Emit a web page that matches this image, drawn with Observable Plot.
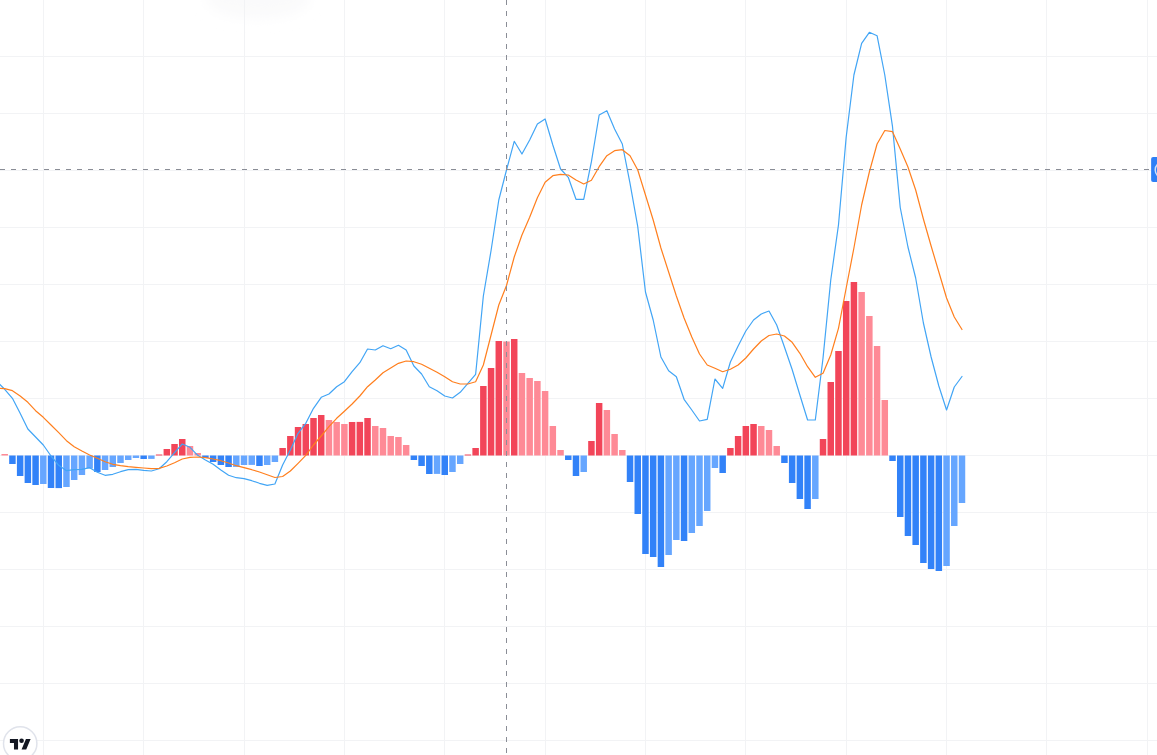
<!DOCTYPE html>
<html>
<head>
<meta charset="utf-8">
<script src="https://cdn.jsdelivr.net/npm/d3@7"></script>
<script src="https://cdn.jsdelivr.net/npm/@observablehq/plot@0.6"></script>
<style>
html,body{margin:0;padding:0;background:#fff;overflow:hidden}
svg{display:block}
</style>
</head>
<body>
<div id="chart"></div>
<script>
// Histogram values, one per session (index 0..124)
const histogram = [
 1.5,-8.5,-20.5,-27.5,-29.5,-28.5,-32.5,-32.6,-31.5,-24.5,-19.5,-13,-16.5,-14.5,-11.5,-7.5,-4.5,-2.5,-3.5,-3.4,
 1,6.5,11.5,16.5,9.5,2.5,-2.5,-6.5,-9.5,-11.5,-11.4,-9.5,-9.4,-10.5,-9.5,-6.5,7.5,19.5,28.5,31.5,
 37.5,40.5,35.5,33.5,31.5,33.5,33.6,37.5,29.5,27.5,19.5,18.5,10.5,-4.5,-10.5,-18.5,-18.4,-19.5,-16.5,-8.5,
 1,7.5,69.5,87.5,114.5,114,116.5,82.5,77.5,74.5,64.5,29.5,5.5,-4.5,-20.5,-16.5,14.5,52.5,45.5,21.5,
 5.5,-26.5,-58.5,-98.5,-101.5,-111.5,-99.5,-84.5,-85.5,-77.5,-70.5,-55.5,-12.5,-17.5,7.5,19.5,29.5,31.5,29.5,25.5,
 9.5,-7.5,-27.5,-43.5,-53.5,-43.5,16.5,73.5,104.5,154.5,173.5,163.5,139.5,109.5,55.5,-5.5,-61.5,-80.5,-89.5,-107.5,
 -113.5,-115.5,-110.5,-70.5,-47.5
];
// MACD line, starting one session before the first bar (index -1..124)
const macd = [
 73.8,66.2,57.2,42.2,26.5,18.5,10.5,-0.5,-9.8,-15.2,-14.2,-13.8,-12.2,-16.8,-19.8,-18.8,-16.2,-14.2,-13.8,-14.8,
 -15.5,-13.2,-6.2,2.8,11.5,8.2,0.2,-4.5,-8.8,-14.5,-19.8,-22.2,-23.2,-25.2,-27.8,-29.8,-28.5,-9.5,5.5,22.2,
 32.2,47.2,58.2,61.5,68.8,73.8,83.8,92.8,106.5,105.5,109.8,106.8,110.2,105.5,89.5,81.5,68.8,64.8,59.5,57.5,
 63.2,72.2,81.2,159.5,205,255.5,285.5,314.2,301.5,315.5,331.5,336.5,310.5,286.5,278.2,256.2,256.2,293.8,340.5,344.8,
 326.5,311.5,272.2,228.8,163.5,135.5,98.5,84.8,78.8,56.2,45.5,34.5,36.2,76.5,67.2,93.5,109.5,124.5,135.5,141.5,
 144.5,130.5,108.5,86,60.5,35.5,35.5,97.5,175.5,230.5,318.5,380.5,412.2,423.2,419.8,380.5,328.8,248,208.5,177.5,
 132.5,98.5,69.5,45.5,68.5,79
];
// Signal line, same index range as the MACD line
const signal = [
 67.2,66.8,64.8,59.5,53.2,44.8,38.2,30.5,22.8,14.8,8.8,4.5,0.5,-2.8,-6.2,-8.8,-10.2,-11.2,-11.8,-12.5,
 -13.2,-12.8,-10.5,-7.2,-3.5,-1.8,-1.5,-2.2,-3.5,-5.2,-7.5,-10.2,-12.2,-14.2,-16.5,-19.2,-22,-21,-15.5,-7.8,
 0.2,10.5,19.5,28.8,37.2,44.2,51.5,59.5,68.8,75.5,82.8,87.5,92.2,94.5,93.8,91.2,87.2,83.2,78.8,73.8,
 71.5,71.5,73.8,90.5,120.5,150.5,170,198.5,220.5,238.2,257.8,273.2,279.8,281.2,280.5,275.5,271.5,275.2,288.8,299.8,
 304.8,305.8,299.8,285.5,260.5,235.5,207.5,183.5,159.5,137.5,118.5,101.5,90.5,87.2,83.8,86.2,90.5,97.5,106.5,114.5,
 120,121.5,119.5,113.2,102.2,88.8,78.2,82.2,100.5,127.2,167.5,207.5,250.5,283.5,311.5,325,323.8,306.5,288.5,265.5,
 236.5,209.5,183.5,157.5,138.5,126
];
const timeTicks = [5,18,31,44,57,70,83,96,109,122,135,148];
const valueTicks = [-285,-228,-171,-114,-57,0,57,114,171,228,285,342,399];
const crosshairIndex = 65;
const crosshairValue = 286;
const priceTag = [{x1:148.5,x2:151.5,y1:273.5,y2:298.5}];
const tagRing = [{x:150,y:286}];

const colors = {rise:"#f24559", fall:"#fe8a96", drop:"#3282f8", ease:"#66a6ff"};
const bars = histogram.map((v,i)=>{
  const prev = i === 0 ? Infinity : histogram[i-1];
  const c = v >= 0 ? (v > prev ? colors.rise : colors.fall) : (v < prev ? colors.drop : colors.ease);
  return {i, v, c};
});
const macdRows = macd.map((v,k)=>({i:k-1, v}));
const signalRows = signal.map((v,k)=>({i:k-1, v}));

const gridColor = "#f2f3f5";
const crossColor = "#8a8d96";
const halfBar = 0.42;
const crisp = {dx:-0.5, dy:-0.5, shapeRendering:"crispEdges"};

const plot = Plot.plot({
  width:1157, height:755,
  marginTop:0, marginRight:0, marginBottom:0, marginLeft:0,
  x:{type:"linear", domain:[-0.609,149.26], range:[0,1157], axis:null},
  y:{type:"linear", domain:[-299.5,455.5], range:[755,0], axis:null},
  style:{background:"#fff"},
  marks:[
    Plot.ruleX(timeTicks,{stroke:gridColor, strokeWidth:1, ...crisp}),
    Plot.ruleY(valueTicks,{stroke:gridColor, strokeWidth:1, ...crisp}),
    Plot.rectY(bars,{x1:d=>d.i-halfBar, x2:d=>d.i+halfBar, y1:0, y2:"v", fill:"c"}),
    Plot.line(macdRows,{x:"i", y:"v", stroke:"#42a5f5", strokeWidth:1.2, curve:"linear", dx:-0.5, dy:-0.5}),
    Plot.line(signalRows,{x:"i", y:"v", stroke:"#ff7f1e", strokeWidth:1.2, curve:"linear", dx:-0.5, dy:-0.5}),
    Plot.ruleX([crosshairIndex],{stroke:crossColor, strokeWidth:1, strokeDasharray:"5 6", ...crisp}),
    Plot.ruleY([crosshairValue],{stroke:crossColor, strokeWidth:1, strokeDasharray:"5 6", x1:-0.609, x2:148.5, ...crisp}),
    Plot.rect(priceTag,{x1:"x1", x2:"x2", y1:"y1", y2:"y2", fill:"#2e7ff6", rx:2}),
    Plot.dot(tagRing,{x:"x", y:"y", r:8, stroke:"#cfe0fb", strokeWidth:1.5, fill:"none"})
  ]
});

const svg = d3.select(plot);

// Faint blurred shadow bleeding in from the top edge
const defs = svg.insert("defs",":first-child");
defs.append("filter").attr("id","topShadow").attr("x","-50%").attr("y","-100%").attr("width","200%").attr("height","300%")
  .append("feGaussianBlur").attr("stdDeviation",7);
svg.insert("ellipse","g").attr("cx",258).attr("cy",-2).attr("rx",52).attr("ry",20)
  .attr("fill","#fafafb").attr("filter","url(#topShadow)");

// TradingView badge, bottom-left
const badge = svg.append("g").attr("transform","translate(20.2,743.5)");
badge.append("circle").attr("r",16.7).attr("fill","#fff").attr("stroke","#e0e3eb").attr("stroke-width",1.5);
badge.append("g").attr("transform","translate(-10.3,-6.8) scale(0.583)")
  .attr("fill","#131722")
  .call(g=>{
    g.append("path").attr("d","M14 22H7V11H0V4h14v18zM28 22h-8l7.5-18h8L28 22z");
    g.append("circle").attr("cx",20).attr("cy",7).attr("r",4);
  });

document.getElementById("chart").append(plot);
</script>
</body>
</html>
